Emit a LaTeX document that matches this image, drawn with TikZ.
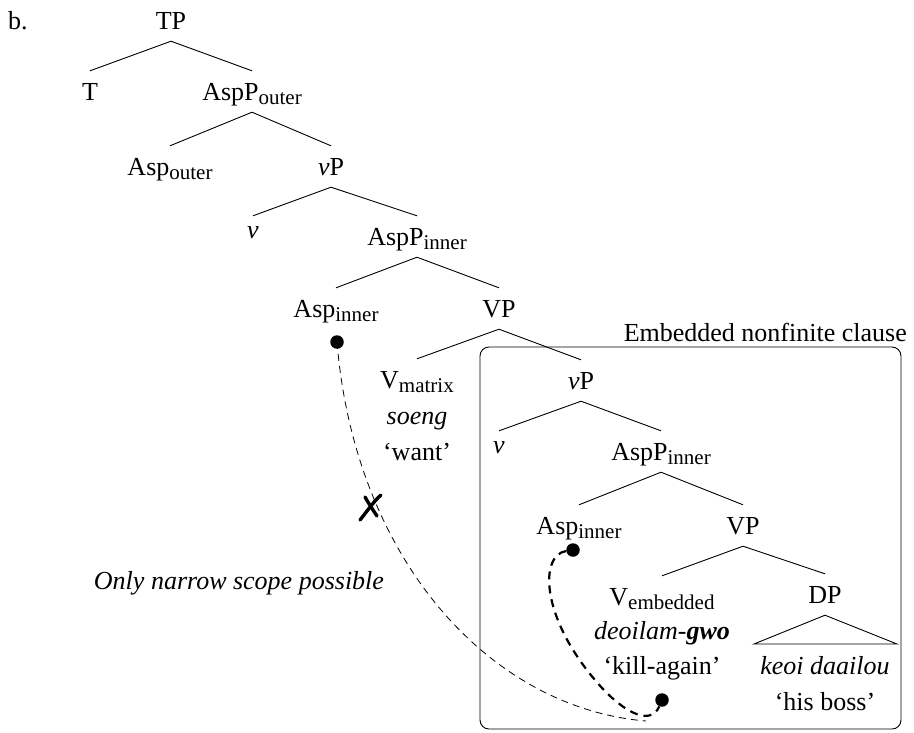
\documentclass[tikz,border=0pt]{standalone}
\usepackage{fontspec}
\setmainfont{Liberation Serif}
% lowered, slightly smaller subscript for category labels
\newcommand\lsub[1]{\raisebox{-4pt}{\fontsize{21}{21}\selectfont #1}}
\newcommand\littlev{\textit{ν}}
\begin{document}
\begin{tikzpicture}[x=1pt,y=-1pt,
  font=\fontsize{26}{30}\selectfont,
  lbl/.style={anchor=base, inner xsep=1pt, inner ysep=6pt, text height=23pt, text depth=6pt},
  lowlbl/.style={lbl, text height=16pt},
  txt/.style={anchor=base, inner sep=0pt},
  branch/.style={line width=0.9pt},
  dotnode/.style={circle, fill=black, inner sep=0pt, minimum size=13.5pt},
  thinlink/.style={line width=0.8pt, dash pattern=on 7pt off 5pt},
  thicklink/.style={line width=2.2pt, dash pattern=on 8pt off 6pt},
  crossmark/.style={line width=3.4pt, line cap=round},
  frame/.style={line width=0.9pt, rounded corners=9pt}]
\useasboundingbox (0,0) rectangle (914,732);

\node[txt, anchor=base west] (ex) at (8,29) {b.};

% matrix clause spine
\node[lbl] (TP) at (171,29) {TP};
\node[lbl] (T) at (90,100) {T};
\node[lbl] (AspPo) at (252,100) {AspP\lsub{outer}};
\node[lbl] (Aspo) at (170,175) {Asp\lsub{outer}};
\node[lbl] (vP) at (331,175) {\littlev P};
\node[lowlbl] (v) at (253,238) {\littlev};
\node[lbl] (AspPi) at (417,245) {AspP\lsub{inner}};
\node[lbl] (Aspi) at (336,317) {Asp\lsub{inner}};
\node[lbl] (VP) at (499,317) {VP};
\node[lbl] (Vm) at (417,388) {V\lsub{matrix}};
\node[txt] (Vm-form) at (417,424) {\textit{soeng}};
\node[txt] (Vm-gloss) at (417,460) {`want'};

% embedded clause
\node[lbl] (vP2) at (581,389) {\littlev P};
\node[lowlbl] (v2) at (499,453) {\littlev};
\node[lbl] (AspPi2) at (661,460) {AspP\lsub{inner}};
\node[lbl] (Aspi2) at (579,534) {Asp\lsub{inner}};
\node[lbl] (VP2) at (743,534) {VP};
\node[lbl] (Ve) at (662,605) {V\lsub{embedded}};
\node[txt] (Ve-form) at (662,639) {\textit{deoilam-\textbf{gwo}}};
\node[txt] (Ve-gloss) at (662,674) {`kill-again'};
\node[lbl] (DP) at (825,603) {DP};
\coordinate (DPl) at (754,644);
\coordinate (DPr) at (897,644);
\node[txt] (DP-form) at (825,674) {\textit{keoi daailou}};
\node[txt] (DP-gloss) at (825,710) {`his boss'};

% branches
\draw[branch] (TP.south) -- (T.north);
\draw[branch] (TP.south) -- (AspPo.north);
\draw[branch] (AspPo.south) -- (Aspo.north);
\draw[branch] (AspPo.south) -- (vP.north);
\draw[branch] (vP.south) -- (v.north);
\draw[branch] (vP.south) -- (AspPi.north);
\draw[branch] (AspPi.south) -- (Aspi.north);
\draw[branch] (AspPi.south) -- (VP.north);
\draw[branch] (VP.south) -- (Vm.north);
\draw[branch] (VP.south) -- (vP2.north);
\draw[branch] (vP2.south) -- (v2.north);
\draw[branch] (vP2.south) -- (AspPi2.north);
\draw[branch] (AspPi2.south) -- (Aspi2.north);
\draw[branch] (AspPi2.south) -- (VP2.north);
\draw[branch] (VP2.south) -- (Ve.north);
\draw[branch] (VP2.south) -- (DP.north);
\draw[branch] (DP.south) -- (DPl) -- (DPr) -- cycle;

% embedded clause frame
\draw[frame] (480,347) rectangle (901,729);
\node[txt, anchor=base east] (frame-label) at (907,341) {Embedded nonfinite clause};

% scope links
\node[dotnode] (d1) at (337,342) {};
\node[dotnode] (d2) at (573,550) {};
\node[dotnode] (d3) at (662,700) {};
\coordinate (low) at (646,721);
\draw[thinlink] (d1.center) .. controls (355,560) and (490,708) .. (low);
\draw[thicklink] (d2) .. controls (540,555) and (540,615) .. (595,680)
  .. controls (620,710) and (650,728) .. (d3);

% blocked wide-scope mark
\coordinate (cross) at (370,507);
\draw[crossmark] ([shift={(-10,13)}]cross) .. controls ([shift={(-2,3)}]cross) and ([shift={(4,-6)}]cross) .. ([shift={(11,-12)}]cross);
\draw[crossmark] ([shift={(-5,-10)}]cross) .. controls ([shift={(-1,-3)}]cross) and ([shift={(3,3)}]cross) .. ([shift={(7,9)}]cross);

\node[txt, font=\itshape\fontsize{26}{30}\selectfont] (note) at (239,589) {Only narrow scope possible};
\end{tikzpicture}
\end{document}
